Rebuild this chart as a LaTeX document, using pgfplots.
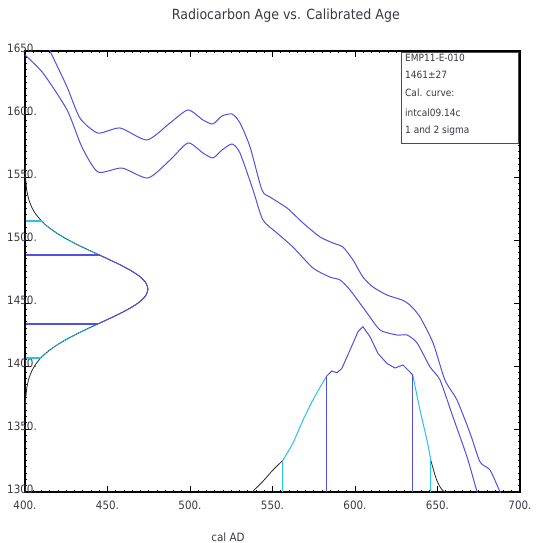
\documentclass[border=0pt]{standalone}
\usepackage{pgfplots}
\pgfplotsset{compat=1.18}
\usepackage{fontspec}
\setmainfont{DejaVu Sans Condensed}
\definecolor{cblue}{RGB}{80,80,225}
\definecolor{ccyan}{RGB}{40,195,235}
\definecolor{ctext}{RGB}{60,55,70}
\definecolor{cblack}{RGB}{40,40,40}
\begin{document}
\begin{tikzpicture}
\useasboundingbox (-25pt,-51pt) rectangle (510pt,492pt);
\begin{axis}[
  scale only axis, width=495pt, height=441pt,
  xmin=400, xmax=700, ymin=1300, ymax=1650,
  axis line style={black, line width=1.1pt},
  tick align=inside,
  major tick length=6pt, minor tick length=2.5pt,
  every tick/.style={black, line width=0.8pt},
  xtick={400,450,...,700},
  xticklabels={400.,450.,500.,550.,600.,650.,700.},
  ytick={1300,1350,...,1650},
  yticklabels={1300.,1350.,1400.,1450.,1500.,1550.,1600.,1650.},
  minor x tick num=9, minor y tick num=9,
  tick label style={font=\fontsize{11.5}{13}\selectfont, text=ctext},
  xticklabel style={yshift=-5pt},
  yticklabel style={anchor=center, xshift=-3pt, yshift=3pt},
  title={Radiocarbon Age vs. Calibrated Age},
  title style={at={(axis description cs:0.527,1)}, anchor=center, yshift=29pt,
    font=\fontsize{14}{16}\selectfont, text=ctext},
  xlabel={cal AD},
  xlabel style={at={(axis description cs:0.41,0)}, anchor=center, yshift=-45pt,
    font=\fontsize{11.5}{13}\selectfont, text=ctext},
]
% calibration curve (upper)
\addplot[cblue, line width=1pt, smooth, tension=0.4] coordinates {
(405,1680) (415.2,1650) (425.5,1621.4) (433.3,1596.8) (444.2,1584.9) (457.6,1588.9)
(473.9,1579.4) (487.9,1592.9) (498.8,1603.2) (507.9,1595.2) (513.9,1592.1) (519.4,1598.4)
(525.5,1600) (530.3,1592.9) (536.4,1573.8) (543.6,1539.7) (548.5,1534.1) (558.8,1525.4)
(568.5,1513.5) (578.8,1502.4) (586.7,1497.6) (592.7,1494.4) (598.8,1484.1) (604.8,1470.6)
(610.9,1462.7) (619.4,1456.3) (628.5,1452.4) (633.3,1448.4) (639.4,1438.9) (647.3,1418.3)
(654.5,1388.9) (661.8,1373.0) (669.7,1346.8) (675.8,1323.8) (681.8,1317.5) (687.9,1300) (690,1294)};
% calibration curve (lower)
\addplot[cblue, line width=1pt, smooth, tension=0.4] coordinates {
(400,1646.8) (410.9,1632.5) (425.5,1603.2) (434.5,1573.8) (444.2,1554.0) (458.8,1557.1)
(474.5,1549.2) (487.9,1563.5) (498.8,1577.0) (507.9,1569.0) (513.9,1565.1) (519.4,1571.4)
(525.5,1576.2) (530.3,1569.0) (538.2,1539.7) (544.2,1515.9) (552.7,1505.6) (562.4,1494.4)
(574.5,1477.8) (584.8,1470.6) (590.9,1468.3) (597.0,1460.3) (607.3,1442.1) (615.2,1428.6)
(625.5,1424.6) (631.5,1424.6) (637.6,1418.3) (645.5,1399.2) (651.5,1388.9) (659.4,1359.5)
(667.9,1327.8) (674.0,1300) (676,1292)};
% radiocarbon age distribution (left)
\addplot[cblack, line width=0.8pt, smooth] coordinates {
(400.08,1361) (400.29,1371) (400.92,1381) (401.57,1386) (402.6,1391) (404.1,1396) (406.3,1401) (409.6,1406.5)
(413.4,1411) (418.6,1416) (424.9,1421) (432.2,1426) (440.2,1431) (444.4,1433.5) (448.5,1436)
(456.6,1441) (463.8,1446) (469.6,1451) (473.2,1456) (474.5,1461) (473.2,1466) (469.6,1471)
(463.8,1476) (456.6,1481) (448.5,1486) (445.2,1488) (440.2,1491) (432.2,1496) (424.9,1501)
(418.6,1506) (413.4,1511) (410.1,1515) (406.3,1521) (404.1,1526) (402.6,1531) (401.57,1536)
(400.92,1541) (400.29,1551) (400.08,1561)};
\addplot[ccyan, line width=1pt, smooth] coordinates {
(409.6,1406.5) (413.4,1411) (418.6,1416) (424.9,1421) (432.2,1426) (440.2,1431) (444.4,1433.5)};
\addplot[ccyan, line width=1pt, smooth] coordinates {
(445.2,1488) (440.2,1491) (432.2,1496) (424.9,1501) (418.6,1506) (413.4,1511) (410.1,1515)};
\addplot[cblack, line width=0.4pt, dash pattern=on 1pt off 1.5pt, smooth] coordinates {
(409.6,1406.5) (413.4,1411) (418.6,1416) (424.9,1421) (432.2,1426) (440.2,1431) (444.4,1433.5)};
\addplot[cblack, line width=0.4pt, dash pattern=on 1pt off 1.5pt, smooth] coordinates {
(445.2,1488) (440.2,1491) (432.2,1496) (424.9,1501) (418.6,1506) (413.4,1511) (410.1,1515)};
\addplot[cblue, line width=1pt, smooth] coordinates {
(444.4,1433.5) (448.5,1436) (456.6,1441) (463.8,1446) (469.6,1451) (473.2,1456) (474.5,1461)
(473.2,1466) (469.6,1471) (463.8,1476) (456.6,1481) (448.5,1486) (445.2,1488)};
% sigma lines (horizontal)
\addplot[ccyan, line width=1.6pt] coordinates {(400.5,1406.5) (409.6,1406.5)};
\addplot[ccyan, line width=1.4pt] coordinates {(400.5,1515) (410.1,1515)};
\addplot[cblue, line width=1.6pt] coordinates {(400.5,1433.5) (444.4,1433.5)};
\addplot[cblue, line width=1.4pt] coordinates {(400.5,1488) (445.2,1488)};
% calibrated distribution (bottom)
\addplot[cblack, line width=0.8pt, smooth] coordinates {
(537.6,1300) (544.2,1308.5) (550.3,1317.5) (556.2,1325)};
\addplot[ccyan, line width=1pt, smooth] coordinates {
(556.2,1325) (562.4,1338.9) (568.5,1357) (574.5,1373) (582.8,1392)};
\addplot[cblue, line width=1pt] coordinates {
(582.8,1392) (586,1396) (589,1394.7) (592,1398) (597,1412.7) (601.8,1427.2) (604.8,1431.2)
(609.1,1423.2) (613.9,1410) (619.4,1402) (624.2,1398.4) (629.1,1400.8) (635,1393)};
\addplot[ccyan, line width=1pt, smooth] coordinates {
(635,1393) (639.4,1365) (643.6,1341.3) (645.9,1325.4)};
\addplot[cblack, line width=0.8pt, smooth] coordinates {
(645.9,1325.4) (649.5,1309.5) (653.3,1301) (657.6,1300)};
% sigma lines (vertical)
\addplot[ccyan, line width=1pt] coordinates {(556.2,1300) (556.2,1325)};
\addplot[cblue, line width=1pt] coordinates {(582.8,1300) (582.8,1392)};
\addplot[cblue, line width=1pt] coordinates {(635,1300) (635,1393)};
\addplot[ccyan, line width=1pt] coordinates {(645.9,1300) (645.9,1325.4)};
% info box
\draw[gray!60!black, line width=0.8pt, fill=white] (axis description cs:0.7596,0.7914) rectangle (axis description cs:0.996,0.9977);
\begin{scope}[every node/.style={anchor=west, inner sep=0pt, text=ctext, font=\fontsize{10}{12}\selectfont}]
\node at (axis description cs:0.7677,0.9834) {EMP11-E-010};
\node at (axis description cs:0.7677,0.9456) {1461±27};
\node at (axis description cs:0.7677,0.9048) {Cal. curve:};
\node at (axis description cs:0.7677,0.8601) {intcal09.14c};
\node at (axis description cs:0.7677,0.8193) {1 and 2 sigma};
\end{scope}
\end{axis}
\end{tikzpicture}
\end{document}
